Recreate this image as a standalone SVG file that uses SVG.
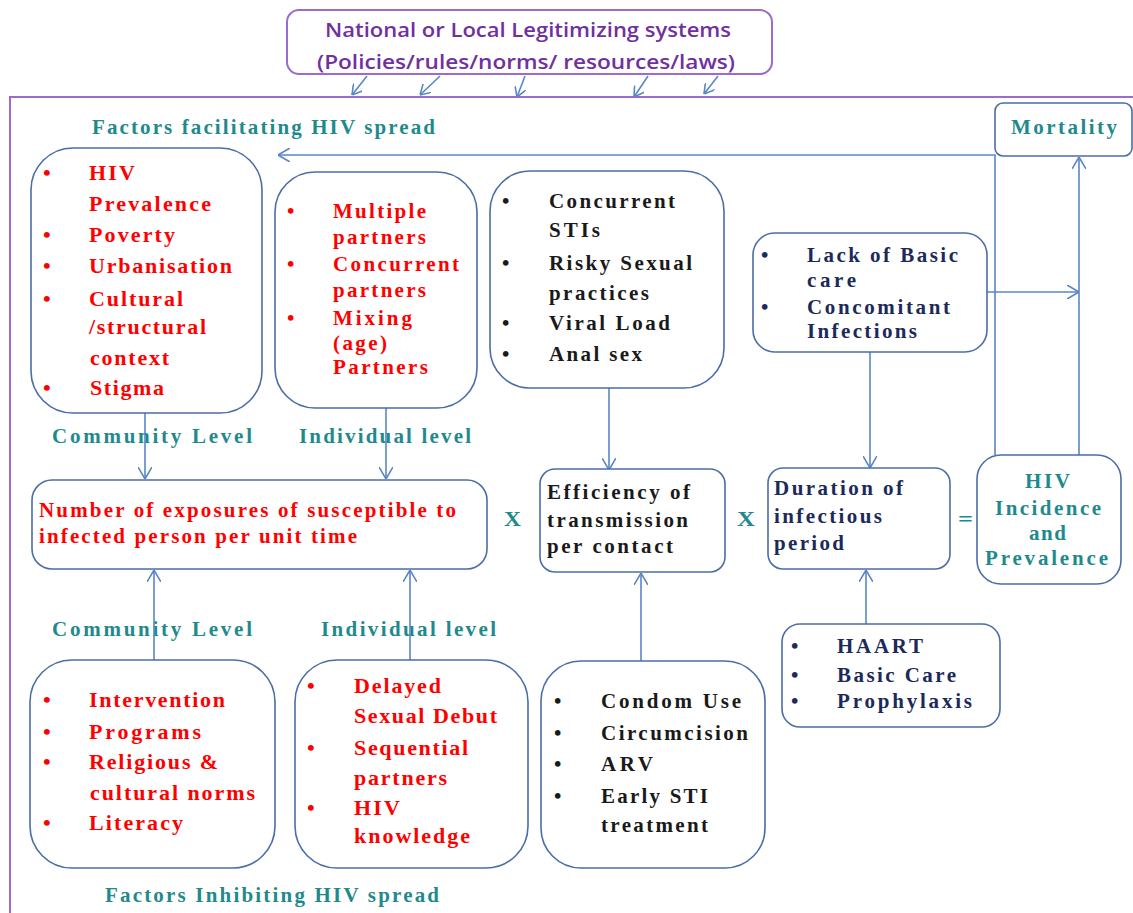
<svg xmlns="http://www.w3.org/2000/svg" width="1133" height="913" viewBox="0 0 1133 913">
<style>
.box{fill:#fff;stroke:#4a6ea6;stroke-width:1.6}
.con{fill:none;stroke:#5b86c6;stroke-width:1.6}
.t{font-family:"Liberation Serif","Times New Roman",serif;font-weight:bold;font-size:21px}
.red{fill:#ff0000}
.teal{fill:#1f8a8c}
.navy{fill:#1c2a5a}
.blk{fill:#1a1a1a}
.pur{font-family:"Open Sans","Liberation Sans",sans-serif;font-weight:600;font-size:19px;fill:#7030a0}
.b{font-size:22px}
</style>
<defs>
<marker id="ah" viewBox="0 0 12 14" refX="12" refY="7" markerWidth="12" markerHeight="14" markerUnits="userSpaceOnUse" orient="auto">
<path d="M0,0 L12,7 L0,14" fill="none" stroke="#5b86c6" stroke-width="1.6"/>
</marker>
<marker id="ahs" viewBox="0 0 10 12" refX="10" refY="6" markerWidth="10" markerHeight="12" markerUnits="userSpaceOnUse" orient="auto">
<path d="M0,0 L10,6 L0,12" fill="none" stroke="#5b86c6" stroke-width="1.6"/>
</marker>
</defs>

<path d="M10,913 L10,97 L1133,97" fill="none" stroke="#9b6bd0" stroke-width="2"/>

<g id="legitimizing">
<rect x="287" y="10" width="485" height="64" rx="12" fill="#fff" stroke="#9b6bd0" stroke-width="2"/>
<text class="pur" x="325" y="37" textLength="406" lengthAdjust="spacingAndGlyphs">National or Local Legitimizing systems</text>
<text class="pur" x="317" y="69" textLength="418" lengthAdjust="spacingAndGlyphs">(Policies/rules/norms/  resources/laws)</text>
</g>

<g id="headings">
<text class="t teal" x="92" y="134" textLength="343" lengthAdjust="spacing">Factors facilitating HIV spread</text>
<text class="t teal" x="52" y="443" textLength="200" lengthAdjust="spacing">Community Level</text>
<text class="t teal" x="299" y="443" textLength="172" lengthAdjust="spacing">Individual level</text>
<text class="t teal" x="52" y="636" textLength="200" lengthAdjust="spacing">Community Level</text>
<text class="t teal" x="321" y="636" textLength="175" lengthAdjust="spacing">Individual level</text>
<text class="t teal" x="105" y="902" textLength="334" lengthAdjust="spacing">Factors Inhibiting HIV spread</text>
<text class="t teal" x="504" y="526" textLength="17" lengthAdjust="spacingAndGlyphs">X</text>
<text class="t teal" x="737" y="526" textLength="18" lengthAdjust="spacingAndGlyphs">X</text>
<text class="t teal" x="958" y="526" textLength="15" lengthAdjust="spacingAndGlyphs">=</text>
</g>

<g id="connectors">
<line class="con" x1="367" y1="76" x2="352" y2="95" marker-end="url(#ahs)"/>
<line class="con" x1="440" y1="76" x2="420" y2="95" marker-end="url(#ahs)"/>
<line class="con" x1="525" y1="76" x2="517" y2="97" marker-end="url(#ahs)"/>
<line class="con" x1="648" y1="76" x2="634" y2="97" marker-end="url(#ahs)"/>
<line class="con" x1="718" y1="76" x2="704" y2="94" marker-end="url(#ahs)"/>
<path class="con" d="M995,455 L995,155 L278,155" marker-end="url(#ah)"/>
<line class="con" x1="1079" y1="455" x2="1079" y2="157" marker-end="url(#ah)"/>
<line class="con" x1="987" y1="292" x2="1079" y2="292" marker-end="url(#ah)"/>
<line class="con" x1="145" y1="413" x2="145" y2="479" marker-end="url(#ah)"/>
<line class="con" x1="386" y1="408" x2="386" y2="479" marker-end="url(#ah)"/>
<line class="con" x1="609" y1="388" x2="609" y2="470" marker-end="url(#ah)"/>
<line class="con" x1="870" y1="352" x2="870" y2="468" marker-end="url(#ah)"/>
<line class="con" x1="154" y1="660" x2="154" y2="570" marker-end="url(#ah)"/>
<line class="con" x1="410" y1="660" x2="410" y2="570" marker-end="url(#ah)"/>
<line class="con" x1="641" y1="661" x2="641" y2="573" marker-end="url(#ah)"/>
<line class="con" x1="866" y1="624" x2="866" y2="570" marker-end="url(#ah)"/>
</g>

<g id="mortality">
<rect class="box" x="995" y="103" width="137" height="53" rx="8"/>
<text class="t teal" x="1011" y="134" textLength="106" lengthAdjust="spacing">Mortality</text>
</g>

<g id="community-facilitating">
<rect class="box" x="31" y="148" width="231" height="265" rx="42"/>
<g class="t red b">
<text x="43" y="180">•</text><text x="89" y="180" textLength="46" lengthAdjust="spacing">HIV</text>
<text x="89" y="211" textLength="122" lengthAdjust="spacing">Prevalence</text>
<text x="43" y="242">•</text><text x="89" y="242" textLength="86" lengthAdjust="spacing">Poverty</text>
<text x="43" y="273">•</text><text x="89" y="273" textLength="143" lengthAdjust="spacing">Urbanisation</text>
<text x="43" y="306">•</text><text x="89" y="306" textLength="94" lengthAdjust="spacing">Cultural</text>
<text x="89" y="334" textLength="117" lengthAdjust="spacing">/structural</text>
<text x="90" y="365" textLength="79" lengthAdjust="spacing">context</text>
<text x="43" y="395">•</text><text x="90" y="395" textLength="74" lengthAdjust="spacing">Stigma</text>
</g>
</g>

<g id="individual-facilitating">
<rect class="box" x="275" y="172" width="202" height="236" rx="40"/>
<g class="t red">
<text x="287" y="218">•</text><text x="333" y="218" textLength="93" lengthAdjust="spacing">Multiple</text>
<text x="333" y="244" textLength="93" lengthAdjust="spacing">partners</text>
<text x="287" y="271">•</text><text x="333" y="271" textLength="126" lengthAdjust="spacing">Concurrent</text>
<text x="333" y="297" textLength="93" lengthAdjust="spacing">partners</text>
<text x="287" y="325">•</text><text x="333" y="325" textLength="79" lengthAdjust="spacing">Mixing</text>
<text x="333" y="350" textLength="54" lengthAdjust="spacing">(age)</text>
<text x="333" y="374" textLength="95" lengthAdjust="spacing">Partners</text>
</g>
</g>

<g id="biological-factors">
<rect class="box" x="490" y="171" width="234" height="217" rx="40"/>
<g class="t blk">
<text x="502" y="208">•</text><text x="549" y="208" textLength="126" lengthAdjust="spacing">Concurrent</text>
<text x="549" y="237" textLength="51" lengthAdjust="spacing">STIs</text>
<text x="502" y="270">•</text><text x="549" y="270" textLength="143" lengthAdjust="spacing">Risky Sexual</text>
<text x="549" y="300" textLength="100" lengthAdjust="spacing">practices</text>
<text x="502" y="330">•</text><text x="549" y="330" textLength="121" lengthAdjust="spacing">Viral Load</text>
<text x="502" y="361">•</text><text x="549" y="361" textLength="93" lengthAdjust="spacing">Anal sex</text>
</g>
</g>

<g id="lack-basic-care">
<rect class="box" x="753" y="233" width="234" height="119" rx="22"/>
<g class="t navy">
<text x="761" y="262">•</text><text x="807" y="262" textLength="151" lengthAdjust="spacing">Lack of Basic</text>
<text x="807" y="287" textLength="49" lengthAdjust="spacing">care</text>
<text x="761" y="314">•</text><text x="807" y="314" textLength="143" lengthAdjust="spacing">Concomitant</text>
<text x="807" y="338" textLength="110" lengthAdjust="spacing">Infections</text>
</g>
</g>

<g id="exposures">
<rect class="box" x="32" y="480" width="455" height="89" rx="20"/>
<text class="t red" x="39" y="517" textLength="417" lengthAdjust="spacing">Number of exposures of susceptible to</text>
<text class="t red" x="39" y="543" textLength="318" lengthAdjust="spacing">infected person per unit time</text>
</g>

<g id="efficiency">
<rect class="box" x="540" y="469" width="185" height="103" rx="15"/>
<text class="t blk" x="547" y="499" textLength="143" lengthAdjust="spacing">Efficiency of</text>
<text class="t blk" x="547" y="527" textLength="141" lengthAdjust="spacing">transmission</text>
<text class="t blk" x="547" y="553" textLength="126" lengthAdjust="spacing">per contact</text>
</g>

<g id="duration">
<rect class="box" x="768" y="468" width="182" height="101" rx="15"/>
<text class="t navy" x="774" y="495" textLength="129" lengthAdjust="spacing">Duration of</text>
<text class="t navy" x="774" y="523" textLength="108" lengthAdjust="spacing">infectious</text>
<text class="t navy" x="774" y="550" textLength="70" lengthAdjust="spacing">period</text>
</g>

<g id="incidence">
<rect class="box" x="977" y="455" width="144" height="129" rx="24"/>
<g class="t teal">
<text x="1025" y="488" textLength="45" lengthAdjust="spacing">HIV</text>
<text x="995" y="515" textLength="106" lengthAdjust="spacing">Incidence</text>
<text x="1029" y="540" textLength="37" lengthAdjust="spacing">and</text>
<text x="985" y="565" textLength="123" lengthAdjust="spacing">Prevalence</text>
</g>
</g>

<g id="community-inhibiting">
<rect class="box" x="30" y="660" width="245" height="208" rx="42"/>
<g class="t red b">
<text x="43" y="707">•</text><text x="89" y="707" textLength="136" lengthAdjust="spacing">Intervention</text>
<text x="43" y="739">•</text><text x="89" y="739" textLength="112" lengthAdjust="spacing">Programs</text>
<text x="43" y="769">•</text><text x="89" y="769" textLength="129" lengthAdjust="spacing">Religious &amp;</text>
<text x="90" y="800" textLength="165" lengthAdjust="spacing">cultural norms</text>
<text x="43" y="830">•</text><text x="89" y="830" textLength="94" lengthAdjust="spacing">Literacy</text>
</g>
</g>

<g id="individual-inhibiting">
<rect class="box" x="295" y="660" width="233" height="208" rx="42"/>
<g class="t red b">
<text x="307" y="693">•</text><text x="354" y="693" textLength="87" lengthAdjust="spacing">Delayed</text>
<text x="354" y="723" textLength="143" lengthAdjust="spacing">Sexual Debut</text>
<text x="307" y="755">•</text><text x="354" y="755" textLength="114" lengthAdjust="spacing">Sequential</text>
<text x="354" y="785" textLength="93" lengthAdjust="spacing">partners</text>
<text x="307" y="815">•</text><text x="354" y="815" textLength="46" lengthAdjust="spacing">HIV</text>
<text x="354" y="843" textLength="116" lengthAdjust="spacing">knowledge</text>
</g>
</g>

<g id="prevention">
<rect class="box" x="541" y="661" width="224" height="207" rx="40"/>
<g class="t blk">
<text x="554" y="708">•</text><text x="601" y="708" textLength="140" lengthAdjust="spacing">Condom Use</text>
<text x="554" y="740">•</text><text x="601" y="740" textLength="147" lengthAdjust="spacing">Circumcision</text>
<text x="554" y="771">•</text><text x="601" y="771" textLength="52" lengthAdjust="spacing">ARV</text>
<text x="554" y="803">•</text><text x="601" y="803" textLength="107" lengthAdjust="spacing">Early STI</text>
<text x="601" y="832" textLength="107" lengthAdjust="spacing">treatment</text>
</g>
</g>

<g id="treatment">
<rect class="box" x="782" y="624" width="218" height="103" rx="18"/>
<g class="t navy">
<text x="791" y="653">•</text><text x="837" y="653" textLength="86" lengthAdjust="spacing">HAART</text>
<text x="791" y="682">•</text><text x="837" y="682" textLength="119" lengthAdjust="spacing">Basic Care</text>
<text x="791" y="708">•</text><text x="837" y="708" textLength="135" lengthAdjust="spacing">Prophylaxis</text>
</g>
</g>
</svg>
